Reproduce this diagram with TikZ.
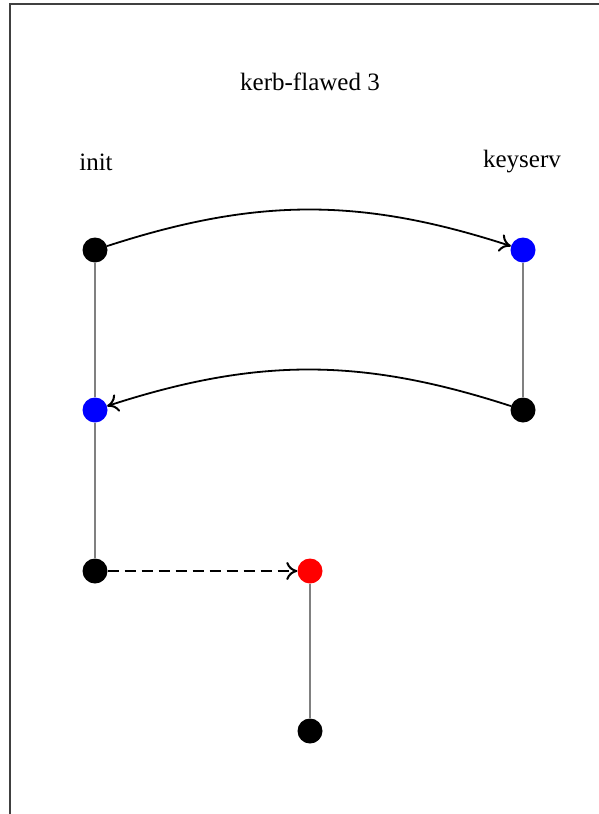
\documentclass[tikz,border=0pt]{standalone}
\usepackage{fontspec}
\setmainfont{Liberation Serif}
\usetikzlibrary{arrows.meta}
\begin{document}
\begin{tikzpicture}[x=1pt,y=-1pt,
  dot/.style={circle,inner sep=0pt,minimum size=25pt},
  lbl/.style={font=\fontsize{25}{30}\selectfont},
  strand/.style={gray,line width=1.3pt},
  msg/.style={black,line width=1.8pt,-{To[length=11pt,width=18pt,line width=2pt]}}]
\useasboundingbox (0,0) rectangle (599,814);
\draw[line width=2pt,black!75] (10,820) -- (10,4) -- (605,4);
\node[lbl] (title) at (310,82) {kerb-flawed 3};
\node[lbl] (linit) at (96,162) {init};
\node[lbl] (lkey) at (522,162) {keyserv};
\node[dot,fill=black] (a1) at (95,250) {};
\node[dot,fill=blue] (a2) at (95,410) {};
\node[dot,fill=black] (a3) at (95,571) {};
\node[dot,fill=blue] (b1) at (523,250) {};
\node[dot,fill=black] (b2) at (523,410) {};
\node[dot,fill=red] (c1) at (310,571) {};
\node[dot,fill=black] (c2) at (310,731) {};
\draw[strand] (a1) -- (a2);
\draw[strand] (a2) -- (a3);
\draw[strand] (b1) -- (b2);
\draw[strand] (c1) -- (c2);
\draw[msg] (a1) to[bend left=18] (b1);
\draw[msg] (b2) to[bend right=18] (a2);
\draw[msg,dash pattern=on 11pt off 6pt] (a3) -- (c1);
\end{tikzpicture}
\end{document}
